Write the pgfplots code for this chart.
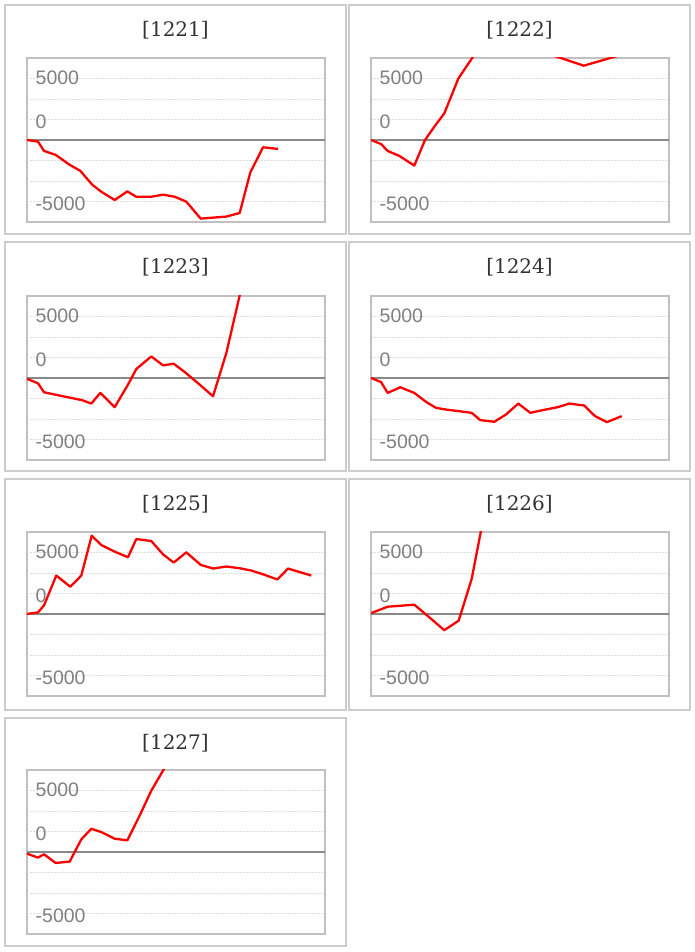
\documentclass[border=0pt]{standalone}
\usepackage{pgfplots}
\pgfplotsset{compat=1.18}
\usepackage{fontspec}
\newfontfamily\labfont{Liberation Sans}
\newfontfamily\titlefont{DejaVu Serif}
\definecolor{titlec}{RGB}{51,51,51}
\definecolor{labc}{RGB}{128,128,128}
\definecolor{framec}{RGB}{192,192,192}
\definecolor{boxc}{RGB}{204,204,204}
\definecolor{gridc}{RGB}{222,222,222}
\definecolor{zeroc}{RGB}{136,136,136}
\pgfplotsset{panel/.style={
  width=298pt, height=164pt, scale only axis,
  xmin=0, xmax=298, ymin=-10000, ymax=10000,
  xtick=\empty, ytick={-7500,-5000,-2500,2500,5000,7500}, yticklabels={},
  scaled y ticks=false, scaled x ticks=false,
  major tick length=0pt,
  ymajorgrids, major grid style={color=gridc, line width=0.8pt, dash pattern=on 1.5pt off 1.5pt},
  axis line style={color=framec, line width=1.4pt},
  anchor=south west, clip=true,
}}
\tikzset{lab/.style={anchor=west, inner sep=0pt, xshift=8.5pt, font=\labfont\fontsize{19.5pt}{20pt}\selectfont, text=labc},
  ttl/.style={anchor=base, inner sep=0pt, font=\titlefont\fontsize{20pt}{24pt}\selectfont, text=titlec},
  redl/.style={color=red, line width=2.3pt, line join=round, no marks},
  zerol/.style={color=zeroc, line width=1.6pt, no marks}}
\newcommand{\ylabs}{%
  \node[lab, yshift=0.5pt] at (axis cs:0,7500) {5000};
  \node[lab, yshift=-2.7pt] at (axis cs:0,2500) {0};
  \node[lab, yshift=-2pt] at (axis cs:0,-7500) {-5000};
  \addplot[zerol] coordinates {(0,0) (298,0)};
}
\begin{document}
\begin{tikzpicture}
\path[use as bounding box, fill=white] (0pt,0pt) rectangle (695pt,952pt);
% boxes
\draw[boxc, line width=2pt] (5pt,718pt) rectangle (346pt,947pt);
\draw[boxc, line width=2pt] (349pt,718pt) rectangle (690pt,947pt);
\draw[boxc, line width=2pt] (5pt,481pt) rectangle (346pt,710pt);
\draw[boxc, line width=2pt] (349pt,481pt) rectangle (690pt,710pt);
\draw[boxc, line width=2pt] (5pt,242pt) rectangle (346pt,473pt);
\draw[boxc, line width=2pt] (349pt,242pt) rectangle (690pt,473pt);
\draw[boxc, line width=2pt] (5pt,6pt) rectangle (346pt,234pt);
% titles
\node[ttl] at (175.5pt,915.5pt) {[1221]};
\node[ttl] at (519.5pt,915.5pt) {[1222]};
\node[ttl] at (175.5pt,678.5pt) {[1223]};
\node[ttl] at (519.5pt,678.5pt) {[1224]};
\node[ttl] at (175.5pt,441.5pt) {[1225]};
\node[ttl] at (519.5pt,441.5pt) {[1226]};
\node[ttl] at (175.5pt,202.5pt) {[1227]};

\begin{axis}[panel, at={(27pt,730pt)}]
\ylabs
\addplot[redl] coordinates {(0,0) (11,-200) (17,-1330) (28.7,-1820) (42.7,-3030) (53.3,-3760) (65.3,-5460) (74.3,-6310) (87.7,-7320) (100.3,-6270) (109.3,-6920) (124.3,-6920) (136,-6670) (147.7,-6920) (159.3,-7520) (173.7,-9590) (186,-9470) (199.3,-9340) (212.7,-8900) (223.3,-3960) (236,-890) (251,-1090)};
\end{axis}

\begin{axis}[panel, at={(371pt,730pt)}]
\ylabs
\addplot[redl] coordinates {(0,0) (10,-490) (16.7,-1340) (28.3,-1940) (43.3,-3120) (54,0) (63.3,1620) (73.3,3240) (87.3,7480) (110,11610) (175,10600) (212.7,9060) (253.3,10490)};
\end{axis}

\begin{axis}[panel, at={(27pt,492pt)}]
\ylabs
\addplot[redl] coordinates {(0,-100) (11,-650) (17,-1740) (29.3,-2060) (42.7,-2390) (55.3,-2710) (64.3,-3120) (73.3,-1820) (87.7,-3560) (101,-810) (109.3,1090) (124.3,2630) (136,1540) (146.7,1740) (157.7,730) (172.7,-810) (186,-2230) (199.3,3030) (212,9710) (217.7,12700)};
\end{axis}

\begin{axis}[panel, at={(371pt,492pt)}]
\ylabs
\addplot[redl] coordinates {(0,0) (10,-490) (16.7,-1820) (29.3,-1130) (43.3,-1820) (55,-2910) (65,-3640) (76.7,-3880) (88.3,-4050) (100.7,-4250) (109.3,-5140) (123.3,-5340) (135,-4450) (147.3,-3120) (159.3,-4250) (173.3,-3880) (186.7,-3560) (198.3,-3120) (213.3,-3360) (224,-4650) (236,-5380) (250.7,-4650)};
\end{axis}

\begin{axis}[panel, at={(27pt,256pt)}]
\ylabs
\addplot[redl] coordinates {(0,0) (11,200) (17,1050) (29.3,4690) (43.3,3320) (54.3,4690) (64.7,9550) (74.3,8410) (87.7,7600) (101,6920) (109.3,9140) (124.3,8900) (136,7280) (146.7,6270) (159.3,7520) (173.7,5990) (186,5540) (199.3,5790) (212.7,5580) (224.3,5300) (237.7,4770) (250.3,4210) (261,5540) (284.3,4690)};
\end{axis}

\begin{axis}[panel, at={(371pt,256pt)}]
\ylabs
\addplot[redl] coordinates {(0,100) (16.7,890) (30,1010) (43.3,1130) (58.3,-400) (73.3,-1980) (87.7,-810) (100.7,4290) (109.3,9710) (113.3,12220)};
\end{axis}

\begin{axis}[panel, at={(27pt,18pt)}]
\ylabs
\addplot[redl] coordinates {(0,-200) (11,-690) (17,-280) (28.7,-1340) (42.7,-1170) (54.3,1540) (64.3,2830) (74.3,2430) (87.7,1620) (100.3,1420) (112.7,4450) (124.3,7480) (135,9710) (146,12010)};
\end{axis}
\end{tikzpicture}
\end{document}
